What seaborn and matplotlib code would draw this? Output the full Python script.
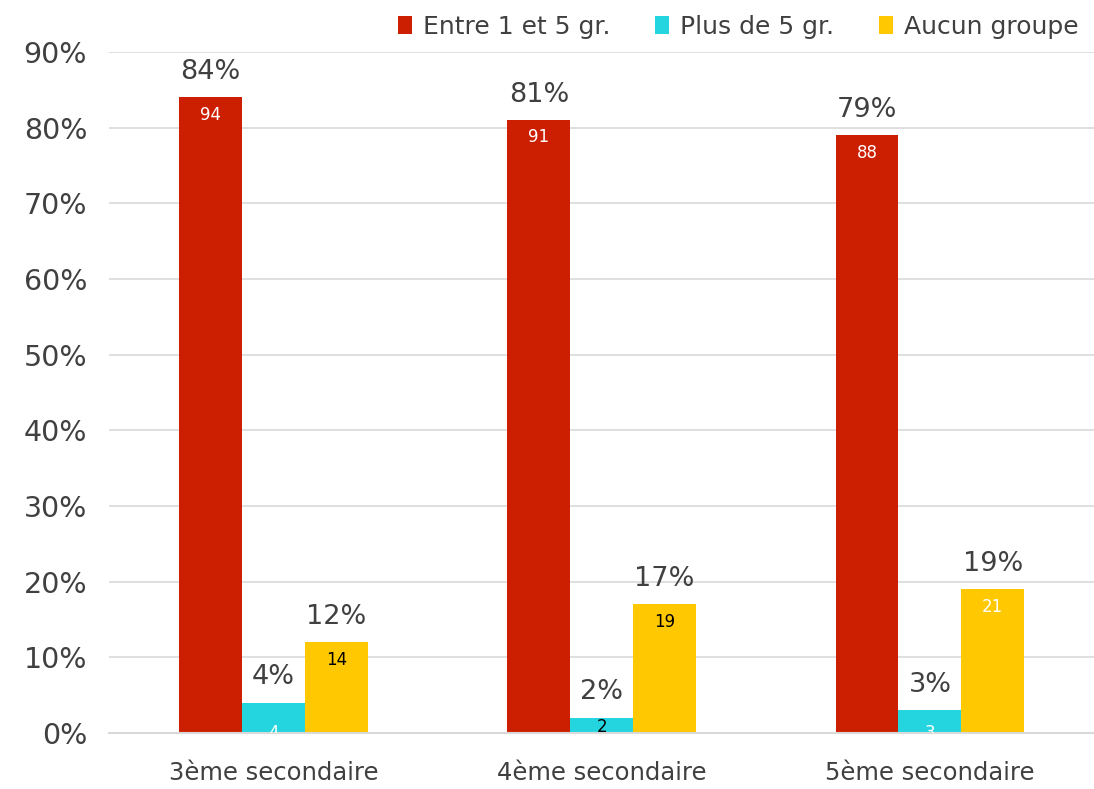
import seaborn as sns
import matplotlib.pyplot as plt
import pandas as pd

# data
niveaux = ["3ème secondaire", "4ème secondaire", "5ème secondaire"]
groupes = ["Entre 1 et 5 gr.", "Plus de 5 gr.", "Aucun groupe"]
pct_entre = [84, 81, 79]
pct_plus = [4, 2, 3]
pct_aucun = [12, 17, 19]
n_entre = [94, 91, 88]
n_plus = [4, 2, 3]
n_aucun = [14, 19, 21]

couleurs = ["#CC1E00", "#24D5DF", "#FFC800"]
# colour of the count text inside each bar (as in the original)
txt_couleurs = {
    "Entre 1 et 5 gr.": ["white", "white", "white"],
    "Plus de 5 gr.": ["white", "black", "white"],
    "Aucun groupe": ["black", "black", "white"],
}

rows = []
for g, pcts, ns in zip(groupes, [pct_entre, pct_plus, pct_aucun], [n_entre, n_plus, n_aucun]):
    for niv, p, n in zip(niveaux, pcts, ns):
        rows.append({"niveau": niv, "groupe": g, "pct": p, "n": n})
df = pd.DataFrame(rows)

sns.set_style("white")
plt.rcParams["font.family"] = ["DejaVu Sans"]
gris = "#404040"

fig, ax = plt.subplots(figsize=(10.94, 7.89), dpi=100)
fig.subplots_adjust(left=0.1, right=1.0, top=0.934, bottom=0.071)

sns.barplot(data=df, x="niveau", y="pct", hue="groupe", order=niveaux,
            hue_order=groupes, palette=couleurs, width=0.575, gap=0,
            saturation=1, ax=ax, errorbar=None, linewidth=0)

for i, cont in enumerate(ax.containers):
    g = groupes[i]
    sub = df[df.groupe == g].set_index("niveau").loc[niveaux]
    for j, bar in enumerate(cont):
        x = bar.get_x() + bar.get_width() / 2
        h = bar.get_height()
        ax.annotate(f"{sub.pct.iloc[j]}%", (x, h), xytext=(0, 9),
                    textcoords="offset points", ha="center", va="bottom",
                    fontsize=19.5, color=gris)
        c = txt_couleurs[g][j]
        if g == "Plus de 5 gr." and c == "white":
            # the original shows these labels mostly cut off by the axis
            ax.text(x, 0, str(sub.n.iloc[j]), ha="center", va="center",
                    fontsize=12, color=c, clip_on=True)
        elif g == "Plus de 5 gr.":
            ax.annotate(str(sub.n.iloc[j]), (x, h), xytext=(0, 0),
                        textcoords="offset points", ha="center", va="top",
                        fontsize=12, color=c)
        else:
            ax.annotate(str(sub.n.iloc[j]), (x, h), xytext=(0, -6),
                        textcoords="offset points", ha="center", va="top",
                        fontsize=12, color=c)

ax.set_ylim(0, 90)
ax.set_xlim(-0.5, 2.5)
ax.set_yticks(range(0, 91, 10))
ax.set_yticklabels([f"{v}%" for v in range(0, 91, 10)])
ax.yaxis.grid(True, color="#D9D9D9", linewidth=1.2)
ax.set_axisbelow(True)
ax.set_xlabel("")
ax.set_ylabel("")
ax.tick_params(axis="y", labelsize=20.5, labelcolor=gris, length=0, pad=16)
ax.tick_params(axis="x", labelsize=17.5, labelcolor=gris, length=0, pad=20)
for s in ["left", "right", "top"]:
    ax.spines[s].set_visible(False)
ax.spines["bottom"].set_color("#D9D9D9")
ax.spines["bottom"].set_linewidth(1.5)

ax.legend(loc="center right", bbox_to_anchor=(0.995, 1.037), ncol=3,
          frameon=False, fontsize=18, labelcolor=gris, handlelength=0.55,
          handleheight=0.75, handletextpad=0.45, columnspacing=1.8,
          borderaxespad=0)

fig.savefig("out.png", dpi=100)
